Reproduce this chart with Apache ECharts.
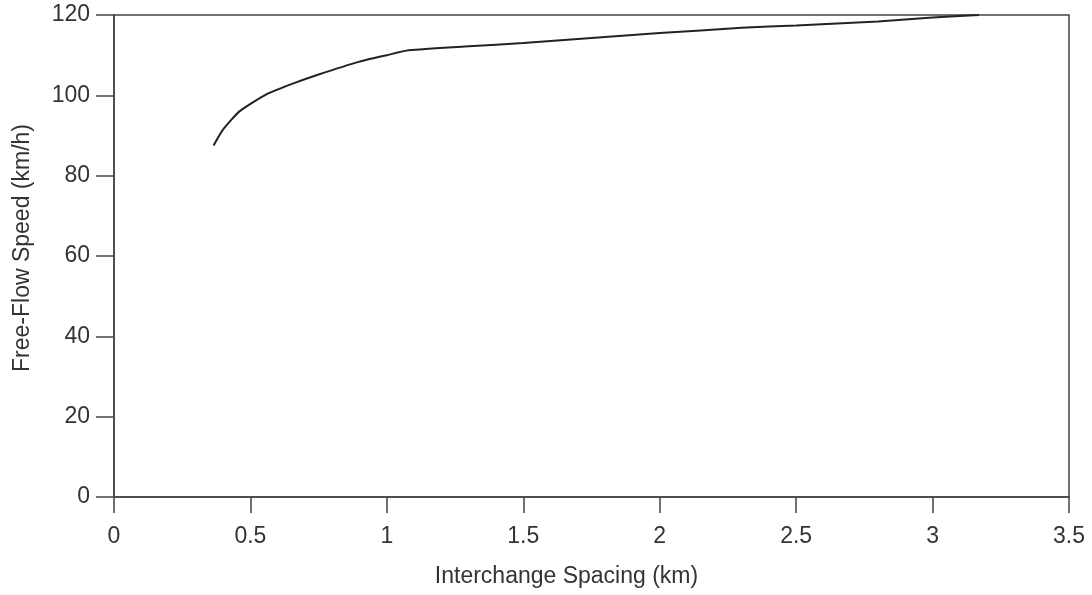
<!DOCTYPE html>
<html>
<head>
<meta charset="utf-8">
<script src="https://cdn.jsdelivr.net/npm/echarts@6/dist/echarts.min.js"></script>
<style>
  html, body { margin: 0; padding: 0; background: #fff; }
  #chart { width: 1092px; height: 595px; }
</style>
</head>
<body>
<div id="chart"></div>
<script>
// 读图估计的曲线点 (km, km/h)
const spacingKm = [0.365, 0.40, 0.46, 0.56, 0.65, 0.75, 0.90, 1.00, 1.08, 1.30, 1.50, 1.75, 2.00, 2.30, 2.50, 2.80, 3.00, 3.17];
const speedKmh  = [87.5, 91.5, 96.0, 100.3, 102.8, 105.2, 108.4, 110.0, 111.2, 112.2, 113.0, 114.3, 115.5, 116.8, 117.4, 118.4, 119.4, 120.0];

const xTitle = "Interchange Spacing (km)";
const yTitle = "Free-Flow Speed (km/h)";

const FONT = "'Liberation Sans Narrow', 'Arial Narrow', 'Liberation Sans', sans-serif";
const TXT = "#333";
const AXIS = "#444";
const FS = 23;

const chart = echarts.init(document.getElementById("chart"));

chart.setOption({
    animation: false,
    backgroundColor: "#fff",
    grid: { left: 114, right: 23, top: 15, bottom: 98, show: true, borderColor: AXIS, borderWidth: 1.5, backgroundColor: "transparent" },
    xAxis: {
        type: "value", min: 0, max: 3.5, interval: 0.5,
        name: xTitle, nameLocation: "middle", nameGap: 68,
        nameTextStyle: { fontFamily: FONT, fontSize: FS, color: TXT, padding: [0, 50, 0, 0] },
        axisLine: { show: true, lineStyle: { color: AXIS, width: 1.5 } },
        axisTick: { show: true, inside: false, length: 16, lineStyle: { color: AXIS, width: 1.5 } },
        axisLabel: { fontFamily: FONT, fontSize: FS, color: TXT, margin: 28 },
        splitLine: { show: false }
    },
    yAxis: {
        type: "value", min: 0, max: 120, interval: 20,
        name: yTitle, nameLocation: "middle", nameGap: 80, nameRotate: 90,
        nameTextStyle: { fontFamily: FONT, fontSize: FS, color: TXT, padding: [0, 0, 0, 16] },
        axisLine: { show: true, lineStyle: { color: AXIS, width: 1.5 } },
        axisTick: { show: true, inside: false, length: 18, lineStyle: { color: AXIS, width: 1.5 } },
        axisLabel: { fontFamily: FONT, fontSize: FS, color: TXT, margin: 24 },
        splitLine: { show: false }
    },
    series: [{
        type: "line",
        data: spacingKm.map((x, i) => [x, speedKmh[i]]),
        showSymbol: false,
        smooth: 0.2,
        lineStyle: { color: "#222", width: 2 }
    }]
});
</script>
</body>
</html>
